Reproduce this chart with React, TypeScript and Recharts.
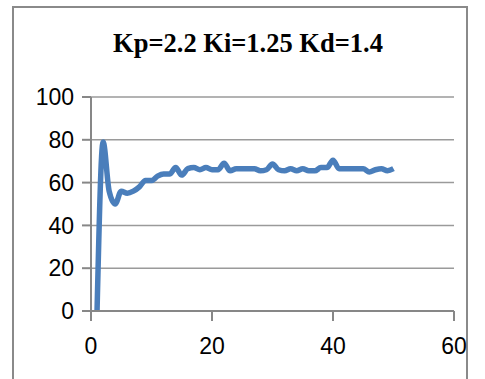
import React from 'react';
import { LineChart, Line, XAxis, YAxis, CartesianGrid } from 'recharts';

const title = 'Kp=2.2 Ki=1.25 Kd=1.4';
const timeSteps = [1,2,3,4,5,6,7,8,9,10,11,12,13,14,15,16,17,18,19,20,21,22,23,24,25,26,27,28,29,30,31,32,33,34,35,36,37,38,39,40,41,42,43,44,45,46,47,48,49,50];
const response = [0,79,56,50,56,55,56,58,61,61,63,64,64,67,63.5,66.5,67,66,67,66,66,69,65.5,66.5,66.5,66.5,66.5,65.5,66,68.7,66,65.5,66.5,65.5,66.5,65.5,65.5,67,67,70.5,66.5,66.5,66.5,66.5,66.5,65,66,66.5,65.5,66.5];
const xTicks = [0, 20, 40, 60];
const yTicks = [0, 20, 40, 60, 80, 100];

const data = timeSteps.map((t, i) => ({ t, v: response[i] }));

export default function App() {
  const axisColor = '#878787';
  const tickStyle = { fontFamily: '"Liberation Sans", Arial, sans-serif', fontSize: 23, fill: '#000' };
  return (
    <div style={{ position: 'absolute', left: 0, top: 0, width: 485, height: 379, background: '#fff', overflow: 'hidden' }}>
      <div style={{ position: 'absolute', left: 12, top: 6, width: 452, height: 400, border: '2px solid #8a8a8a' }} />
      <svg width={485} height={379} style={{ position: 'absolute', left: 0, top: 0 }}>
        <text x={248} y={52} textAnchor="middle" fontFamily='"Liberation Serif", "Times New Roman", serif' fontWeight="bold" fontSize={26.5} fill="#000">{title}</text>
      </svg>
      <div style={{ position: 'absolute', left: 0, top: 0 }}>
        <LineChart width={485} height={379} data={data} margin={{ top: 97, right: 31, bottom: 8, left: 0 }}>
          <CartesianGrid vertical={false} stroke="#9a9a9a" strokeWidth={1.5} />
          <XAxis dataKey="t" type="number" domain={[0, 60]} ticks={xTicks} height={60}
            stroke={axisColor} strokeWidth={2} tickSize={10} tickMargin={17} tick={tickStyle} tickLine={{ stroke: axisColor, strokeWidth: 2 }} />
          <YAxis type="number" domain={[0, 100]} ticks={yTicks} width={91}
            stroke={axisColor} strokeWidth={2} tickSize={9} tickMargin={8} tick={tickStyle} tickLine={{ stroke: axisColor, strokeWidth: 2 }} />
          <Line dataKey="v" type="monotone" stroke="#4a7ebb" strokeWidth={5.5} dot={false} isAnimationActive={false} />
        </LineChart>
      </div>
    </div>
  );
}
